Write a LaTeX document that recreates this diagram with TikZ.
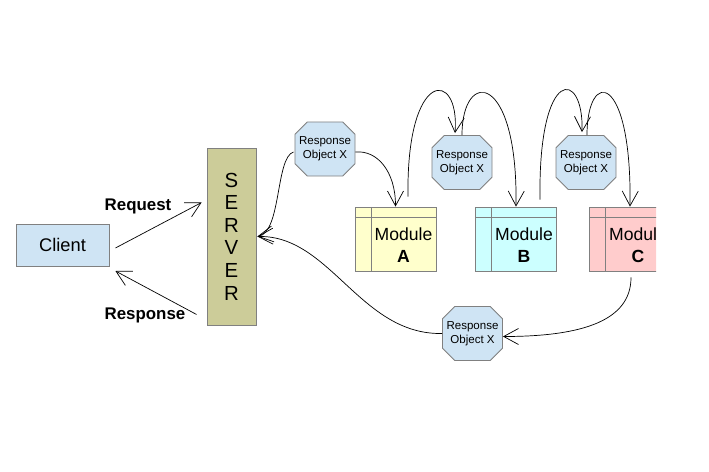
\documentclass[tikz,border=0pt]{standalone}
\usepackage{fontspec}
\setmainfont{Liberation Sans}
\usepackage{xcolor}
\usetikzlibrary{shapes.misc}
\usetikzlibrary{arrows.meta}

\definecolor{clientblue}{RGB}{207,228,244}
\definecolor{serverolive}{RGB}{204,204,153}
\definecolor{modyellow}{RGB}{255,255,204}
\definecolor{modcyan}{RGB}{204,255,255}
\definecolor{modpink}{RGB}{255,204,204}
\definecolor{edgegray}{RGB}{128,128,128}

\newcommand{\objtext}{\makebox[0pt]{Response}\\\makebox[0pt]{Object X}}

\tikzset{
  box/.style={draw=edgegray, line width=0.6pt, inner sep=0pt},
  respobj/.style={box, chamfered rectangle, chamfered rectangle xsep=0.32cm,
    chamfered rectangle ysep=0.34cm, fill=clientblue, minimum width=1.5cm,
    minimum height=1.35cm, align=center, font=\fontsize{8.2}{10.1}\selectfont},
  module/.style={box, minimum width=2.025cm, minimum height=1.6cm,
    path picture={\draw[edgegray, line width=0.6pt]
      ([xshift=0.4cm]path picture bounding box.north west) -- ([xshift=0.4cm]path picture bounding box.south west)
      ([yshift=-0.27cm]path picture bounding box.north west) -- ([yshift=-0.27cm]path picture bounding box.north east);}},
  modtext/.style={align=center, font=\fontsize{12.5}{16}\selectfont},
  flow/.style={line width=0.5pt, -{Straight Barb[length=3.7mm,width=4mm]}},
}

\begin{document}
\begin{tikzpicture}[x=0.025cm,y=0.025cm]
\useasboundingbox (0,0) rectangle (709,-472);

\node[box, fill=clientblue, minimum width=2.325cm, minimum height=1.05cm,
  font=\fontsize{13}{15}\selectfont] (cl) at (62.5,-245) {Client};
\node[box, fill=serverolive, minimum width=1.225cm, minimum height=4.425cm, align=center,
  font=\fontsize{14.5}{16.1}\selectfont] (srv) at (231.5,-236.5) {S\\E\\R\\V\\E\\R};

\node[font=\fontsize{12}{14}\selectfont\bfseries] (reqlbl) at (138,-206) {Request};
\node[font=\fontsize{12}{14}\selectfont\bfseries] (resplbl) at (145,-315) {Response};

% response objects
\node[respobj] (ox1) at (325,-149) {\objtext};
\node[respobj] (ox2) at (462,-162.5) {\objtext};
\node[respobj] (ox3) at (586,-162.5) {\objtext};
\node[respobj] (ox4) at (472.5,-333.5) {\objtext};

% modules
\node[module, fill=modyellow] (modA) at (395.5,-239) {};
\node[modtext] (modAtxt) at ([shift={(8,-6)}]modA.center) {Module\\\textbf{A}};
\node[module, fill=modcyan] (modB) at (516,-239) {};
\node[modtext] (modBtxt) at ([shift={(8,-6)}]modB.center) {Module\\\textbf{B}};
\begin{scope}
\clip (0,0) rectangle (656,-472);
\node[module, fill=modpink] (modC) at (630,-239) {};
\node[modtext] (modCtxt) at ([shift={(8,-6)}]modC.center) {Module\\\textbf{C}};
\end{scope}

% client and server
\draw[flow] ([shift={(6,-3)}]cl.east) -- ([shift={(-5,34)}]srv.west);
\draw[flow] ([shift={(-10,-78)}]srv.west) -- ([shift={(6,-26)}]cl.east);

% chain through the modules
\draw[flow, {Straight Barb[length=3.7mm,width=4mm]}-] ([shift={(1,0)}]srv.east) .. controls +(24,4) and +(-18,-5) .. ([shift={(-1,-3)}]ox1.west);
\draw[flow] ([shift={(0,-3)}]ox1.east) .. controls +(22,2) and +(0,35) .. (modA.north);
\draw[flow] ([shift={(12.5,10)}]modA.north) .. controls +(-2,129) and +(5,64) .. ([shift={(-7,2)}]ox2.north);
\draw[flow] (ox2.north) .. controls +(0,67) and +(2,135) .. (modB.north);
\draw[flow] ([shift={(24,7)}]modB.north) .. controls +(-2,135) and +(2,63) .. ([shift={(-4,3)}]ox3.north);
\draw[flow] ([shift={(1,0)}]ox3.north) .. controls +(0,67) and +(2,135) .. (modC.north);
\draw[flow] ([shift={(1,-6)}]modC.south) .. controls +(0,-43) and +(80,0) .. ([shift={(0,-3)}]ox4.east);
\draw[flow] (ox4.west) .. controls +(-82,-1.5) and +(73,1.5) .. ([shift={(1,0)}]srv.east);
\end{tikzpicture}
\end{document}
